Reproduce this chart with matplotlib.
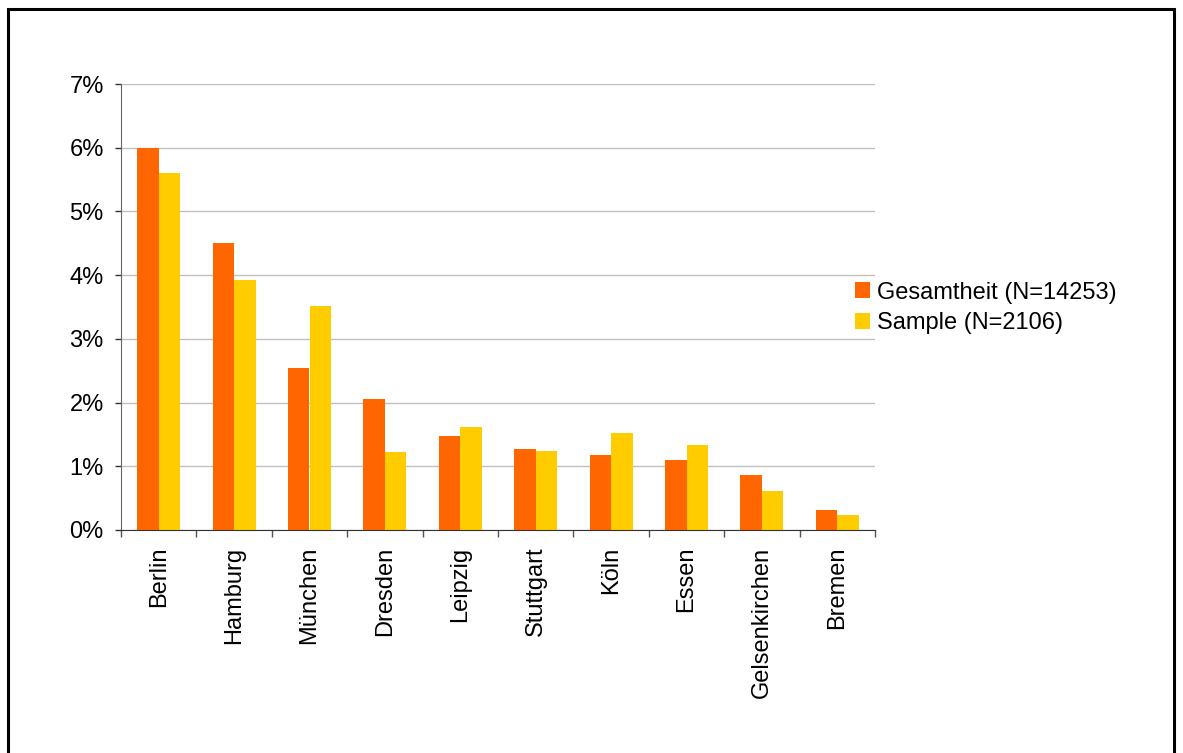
import numpy as np
import matplotlib
matplotlib.use("Agg")
import matplotlib.pyplot as plt
from matplotlib.patches import Rectangle
from matplotlib.ticker import FuncFormatter, FixedLocator

plt.rcParams['font.family'] = ['Liberation Sans', 'DejaVu Sans']

staedte = ["Berlin", "Hamburg", "München", "Dresden", "Leipzig",
           "Stuttgart", "Köln", "Essen", "Gelsenkirchen", "Bremen"]
gesamtheit = [5.99, 4.51, 2.54, 2.05, 1.47, 1.27, 1.17, 1.10, 0.86, 0.31]
sample = [5.60, 3.93, 3.51, 1.23, 1.61, 1.24, 1.52, 1.33, 0.61, 0.235]
label_ges = "Gesamtheit (N=14253)"
label_sam = "Sample (N=2106)"

fig = plt.figure(figsize=(11.83, 7.53), dpi=100)
ax = fig.add_axes([121/1183, 1-530/753, (875-121)/1183, (530-84)/753])

x = np.arange(len(staedte))
w = 0.285
b1 = ax.bar(x - w/2, gesamtheit, w, color="#FF6600", label=label_ges, zorder=2)
b2 = ax.bar(x + w/2, sample, w, color="#FFCC00", label=label_sam, zorder=2)

ax.set_xlim(-0.5, len(staedte) - 0.5)
ax.set_ylim(0, 7)
ax.set_yticks(np.arange(0, 8, 1))
ax.yaxis.set_major_formatter(FuncFormatter(lambda v, p: "%d%%" % v))
ax.yaxis.grid(True, color="#c0c0c0", linewidth=1.0, zorder=0)
ax.set_axisbelow(True)

ax.set_xticks(x)
ax.set_xticklabels(staedte, rotation=90, va="top", ha="center")
ax.xaxis.set_minor_locator(FixedLocator(np.arange(-0.5, len(staedte), 1)))
ax.tick_params(axis="x", which="major", length=0, pad=12, labelsize=17)
ax.tick_params(axis="x", which="minor", length=5, width=1.0, direction="out", color="#555555")
ax.tick_params(axis="y", length=4.5, width=1.0, pad=8, labelsize=17, color="#333333")

for s in ["top", "right"]:
    ax.spines[s].set_visible(False)
ax.spines["left"].set_color("#666666")
ax.spines["bottom"].set_color("#333333")

fig.legend(handles=[b1, b2], loc="center left",
           bbox_to_anchor=(855/1183, 1-308/753), frameon=False,
           fontsize=17, handlelength=0.65, handleheight=0.65,
           handletextpad=0.3, labelspacing=0.38,
           borderpad=0, borderaxespad=0)

# Rahmen um das Diagramm (unten abgeschnitten)
fig.patches.append(Rectangle((8/1183, -0.05), (1174-8)/1183, 1.05 - 9/753,
                             transform=fig.transFigure, fill=False,
                             edgecolor="black", linewidth=2.2, clip_on=False))

fig.savefig("out.png", dpi=100)
